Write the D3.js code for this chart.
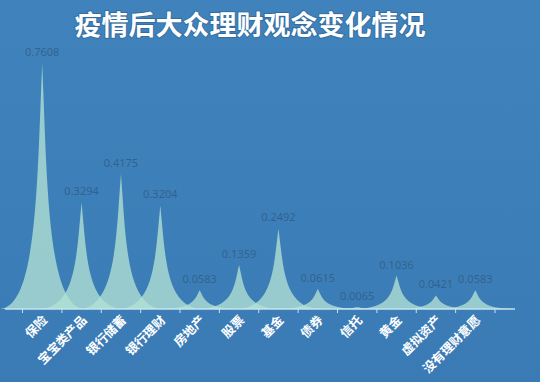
<!DOCTYPE html>
<html>
<head>
<meta charset="utf-8">
<script src="https://cdn.jsdelivr.net/npm/d3@7"></script>
<style>
  body { margin: 0; background: #3d7fb9; }
  svg { display: block; }
</style>
</head>
<body>
<div id="chart"></div>
<script>
const categories = ["保险", "宝宝类产品", "银行储蓄", "银行理财", "房地产", "股票", "基金", "债券", "信托", "黄金", "虚拟资产", "没有理财意愿"];
const values = [0.7608, 0.3294, 0.4175, 0.3204, 0.0583, 0.1359, 0.2492, 0.0615, 0.0065, 0.1036, 0.0421, 0.0583];
const title = "疫情后大众理财观念变化情况";

const width = 540, height = 382;
const baseY = 309;

const svg = d3.select("#chart")
    .append("svg")
    .attr("width", width)
    .attr("height", height);

// background
const grad = svg.append("defs").append("linearGradient")
    .attr("id", "bg").attr("x1", 0).attr("y1", 0).attr("x2", 0).attr("y2", 1);
grad.append("stop").attr("offset", "0%").attr("stop-color", "#4083bc");
grad.append("stop").attr("offset", "100%").attr("stop-color", "#3a7bb5");
svg.append("rect")
    .attr("width", width)
    .attr("height", height)
    .attr("fill", "url(#bg)");

// title
svg.append("text")
    .attr("x", 250)
    .attr("y", 35)
    .attr("text-anchor", "middle")
    .attr("fill", "#ffffff")
    .style("font-family", "'Noto Sans CJK SC', sans-serif")
    .style("font-size", "27px")
    .style("font-weight", "bold")
    .style("paint-order", "stroke")
    .style("stroke", "rgba(30,70,110,0.35)")
    .style("stroke-width", "2px")
    .text(title);

// scales
const xScale = d3.scaleBand()
    .domain(categories)
    .range([22.5, 495])
    .padding(0);

const yScale = d3.scaleLinear()
    .domain([0, 0.7608])
    .range([baseY, 63]);

const bw = xScale.bandwidth();
const half = bw * 1.1;

// spikes
function spike(d, i) {
    const cx = xScale(categories[i]) + bw / 2;
    const top = yScale(d);
    const mid = (top + baseY) / 2;
    const k = half * 0.12;
    return `M${cx - half},${baseY} L${cx + half},${baseY} ` +
        `C${cx + k},${baseY} ${cx + k},${mid} ${cx},${top} ` +
        `C${cx - k},${mid} ${cx - k},${baseY} ${cx - half},${baseY} Z`;
}

svg.append("g")
    .selectAll("path")
    .data(values)
    .join("path")
    .attr("d", spike)
    .attr("fill", "#b2e2d4")
    .attr("fill-opacity", 0.78);

// value labels
svg.append("g")
    .selectAll("text")
    .data(values)
    .join("text")
    .attr("x", (d, i) => xScale(categories[i]) + bw / 2)
    .attr("y", d => yScale(d) - 7)
    .attr("text-anchor", "middle")
    .attr("fill", "#2f5d86")
    .attr("fill-opacity", 0.85)
    .style("font-family", "'Noto Sans', sans-serif")
    .style("font-size", "11px")
    .text(d => d.toFixed(4));

// x-axis
const axis = svg.append("g")
    .attr("transform", `translate(0,${baseY})`);

axis.append("line")
    .attr("x1", 5)
    .attr("x2", 515)
    .attr("stroke", "#c5e3ee")
    .attr("stroke-width", 1.5);

axis.selectAll(".tick")
    .data(categories.concat(["end"]))
    .join("line")
    .attr("x1", (d, i) => 22.5 + i * bw)
    .attr("x2", (d, i) => 22.5 + i * bw)
    .attr("y1", 0)
    .attr("y2", 4)
    .attr("stroke", "#c5e3ee");

axis.selectAll(".label")
    .data(categories)
    .join("text")
    .attr("transform", d => `translate(${xScale(d) + bw / 2 + 6},${12}) rotate(-45)`)
    .attr("text-anchor", "end")
    .attr("fill", "#ffffff")
    .style("font-family", "'Noto Sans CJK SC', sans-serif")
    .style("font-size", "12.5px")
    .style("font-weight", "bold")
    .text(d => d);
</script>
</body>
</html>
